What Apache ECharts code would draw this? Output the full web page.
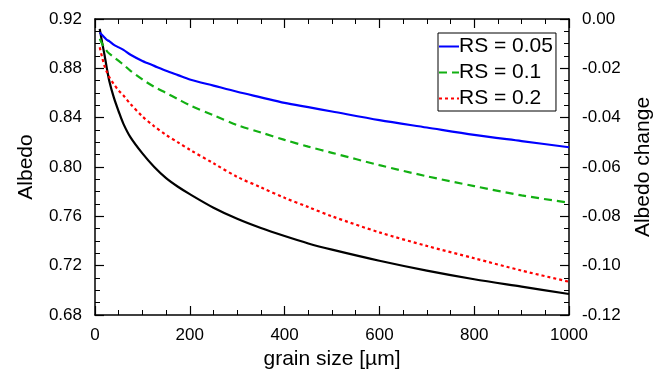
<!DOCTYPE html>
<html>
<head>
<meta charset="utf-8">
<script src="https://cdn.jsdelivr.net/npm/echarts@6/dist/echarts.min.js"></script>
<style>html,body{margin:0;padding:0;background:#fff}#c{width:665px;height:376px}</style>
</head>
<body>
<div id="c"></div>
<script>
const grainSize = [10, 15, 20, 25, 30, 40, 50, 60, 75, 100, 125, 150, 175, 200, 250, 300, 350, 400, 450, 500, 600, 700, 800, 900, 1000];
const albedo    = [0.912, 0.901, 0.891, 0.880, 0.870, 0.856, 0.845, 0.835, 0.824, 0.811, 0.800, 0.791, 0.784, 0.778, 0.767, 0.758, 0.7505, 0.744, 0.738, 0.733, 0.724, 0.716, 0.709, 0.703, 0.697];
const rs005     = [0.909, 0.907, 0.905, 0.903, 0.902, 0.899, 0.897, 0.895, 0.891, 0.886, 0.882, 0.878, 0.8745, 0.871, 0.866, 0.861, 0.8565, 0.852, 0.8485, 0.845, 0.838, 0.832, 0.826, 0.821, 0.816];
const rs01      = [0.904, 0.900, 0.897, 0.894, 0.892, 0.889, 0.886, 0.883, 0.878, 0.871, 0.865, 0.860, 0.855, 0.850, 0.842, 0.834, 0.828, 0.822, 0.8165, 0.8115, 0.8015, 0.7925, 0.7845, 0.777, 0.771];
const rs02      = [0.897, 0.889, 0.882, 0.877, 0.873, 0.867, 0.862, 0.858, 0.851, 0.841, 0.833, 0.826, 0.820, 0.814, 0.803, 0.792, 0.7835, 0.775, 0.7675, 0.760, 0.747, 0.736, 0.726, 0.716, 0.707];
const legendNames = ['RS = 0.05', 'RS = 0.1', 'RS = 0.2'];

const pairs = ys => grainSize.map((x, i) => [x, ys[i]]);
const FONT = 'Liberation Sans, Arial, sans-serif';
const axisLine = {show: true, onZero: false, lineStyle: {color: '#000', width: 1.5}};
const tick = {show: true, inside: true, length: 9, lineStyle: {color: '#000', width: 1.2}};
const minor = {show: true, splitNumber: 4, length: 5, lineStyle: {color: '#000', width: 1}};
const SMOOTH = 0.3;

const chart = echarts.init(document.getElementById('c'));
chart.setOption({
  animation: false,
  backgroundColor: '#fff',
  textStyle: {fontFamily: FONT},
  grid: {left: 95, right: 96, top: 19, bottom: 61, containLabel: false},
  legend: {
    data: legendNames,
    orient: 'vertical',
    left: 438, top: 33,
    itemWidth: 20, itemHeight: 14, itemGap: 5,
    padding: [3, 3, 2, 0],
    borderColor: '#000', borderWidth: 1,
    backgroundColor: '#fff',
    itemStyle: {opacity: 0},
    textStyle: {fontSize: 21, color: '#000', fontFamily: FONT, padding: [0, 0, 0, -5]}
  },
  xAxis: [{
    type: 'value', min: 0, max: 1000, interval: 200,
    name: 'grain size [µm]', nameLocation: 'middle', nameGap: 27,
    nameTextStyle: {fontSize: 21, color: '#000', fontFamily: FONT},
    axisLine, axisTick: tick, minorTick: minor,
    axisLabel: {fontSize: 17, color: '#000', margin: 12, fontFamily: FONT, formatter: v => String(v)},
    splitLine: {show: false}
  }, {
    type: 'value', position: 'top', min: 0, max: 1000, interval: 200,
    axisLine, axisTick: tick, minorTick: minor,
    axisLabel: {show: false}, splitLine: {show: false}
  }],
  yAxis: [{
    type: 'value', position: 'left', min: 0.68, max: 0.92, interval: 0.04,
    name: 'Albedo', nameLocation: 'middle', nameGap: 58, nameRotate: 90,
    nameTextStyle: {fontSize: 21, color: '#000', fontFamily: FONT},
    axisLine, axisTick: tick, minorTick: minor,
    axisLabel: {fontSize: 17, color: '#000', margin: 13, fontFamily: FONT, formatter: v => v.toFixed(2)},
    splitLine: {show: false}
  }, {
    type: 'value', position: 'right', min: -0.12, max: 0, interval: 0.02,
    name: 'Albedo change', nameLocation: 'middle', nameGap: 64, nameRotate: 90,
    nameTextStyle: {fontSize: 21, color: '#000', fontFamily: FONT},
    axisLine, axisTick: tick, minorTick: minor,
    axisLabel: {fontSize: 17, color: '#000', margin: 13, fontFamily: FONT, formatter: v => v.toFixed(2)},
    splitLine: {show: false}
  }],
  series: [{
    name: 'Albedo', type: 'line', data: pairs(albedo), symbol: 'none', smooth: SMOOTH,
    lineStyle: {color: '#000', width: 2.2}, itemStyle: {color: '#000'}, z: 3
  }, {
    name: legendNames[0], type: 'line', data: pairs(rs005), symbol: 'none', smooth: SMOOTH,
    lineStyle: {color: '#0000ff', width: 2.2}, itemStyle: {color: '#0000ff'}
  }, {
    name: legendNames[1], type: 'line', data: pairs(rs01), symbol: 'none', smooth: SMOOTH,
    lineStyle: {color: '#12b012', width: 2.2, type: [8, 5]}, itemStyle: {color: '#12b012'}
  }, {
    name: legendNames[2], type: 'line', data: pairs(rs02), symbol: 'none', smooth: SMOOTH,
    lineStyle: {color: '#ff0000', width: 2.2, type: [3, 3]}, itemStyle: {color: '#ff0000'}
  }]
});
</script>
</body>
</html>
